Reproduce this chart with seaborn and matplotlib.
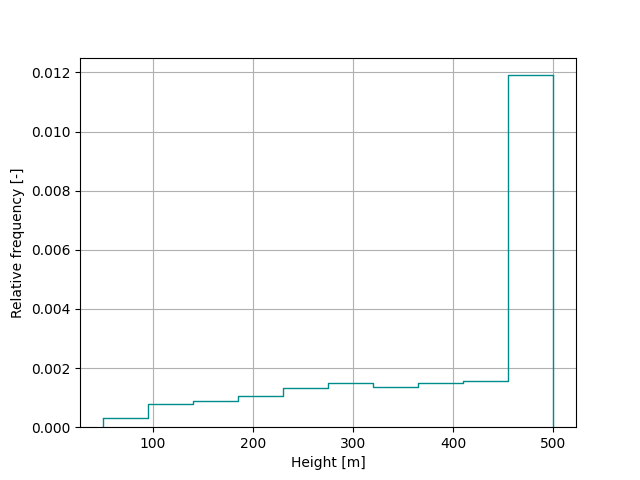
import numpy as np
import pandas as pd
import matplotlib
matplotlib.use('Agg')
import matplotlib.pyplot as plt
import seaborn as sns

# histogram bins (height in m) and relative frequency per bin
bin_edges = [50, 95, 140, 185, 230, 275, 320, 365, 410, 455, 500]
rel_freq = [0.00030, 0.00077, 0.00087, 0.00107, 0.00131,
            0.00148, 0.00136, 0.00149, 0.00155, 0.01192]

centers = [(a + b) / 2 for a, b in zip(bin_edges[:-1], bin_edges[1:])]
df = pd.DataFrame({'height': centers, 'freq': rel_freq})

fig, ax = plt.subplots(figsize=(6.4, 4.8), dpi=100)
sns.histplot(data=df, x='height', weights='freq', bins=bin_edges,
             element='step', fill=False, color='darkcyan', linewidth=1, ax=ax)
# close the outline down to zero at both ends, like a step histogram
ax.vlines([bin_edges[0], bin_edges[-1]], 0, [rel_freq[0], rel_freq[-1]],
          color='darkcyan', linewidth=1)
ax.grid(True)
ax.set_xlabel('Height [m]')
ax.set_ylabel('Relative frequency [-]')
ax.set_ylim(0, 0.0125)
ax.set_xticks([100, 200, 300, 400, 500])
plt.savefig('out.png')
